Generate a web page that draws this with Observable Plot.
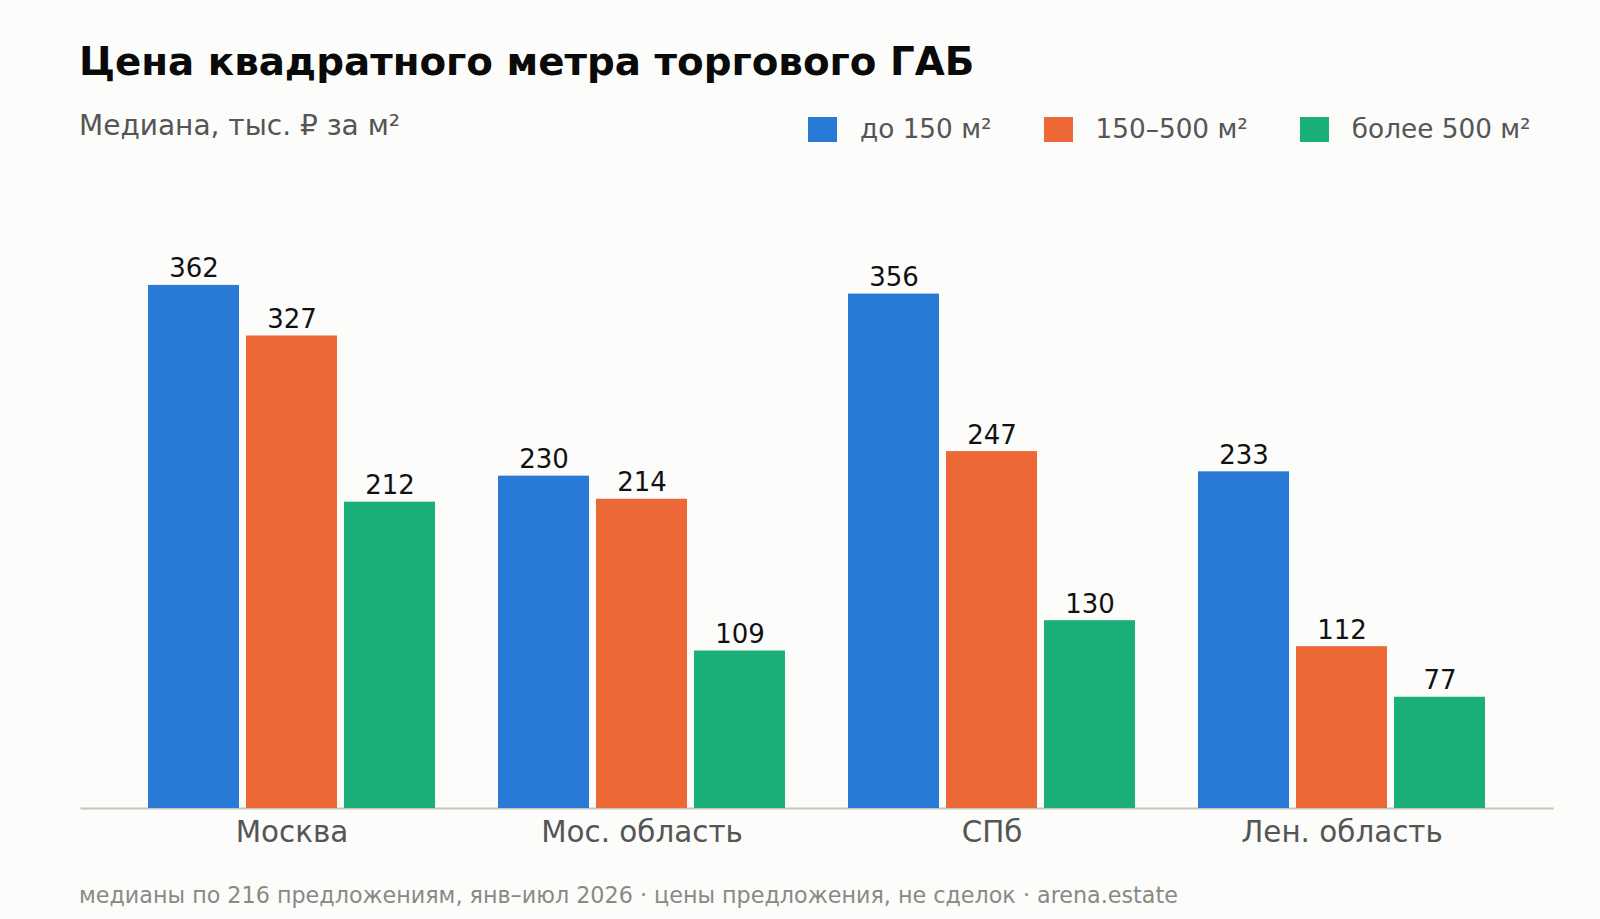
<!DOCTYPE html>
<html>
<head>
<meta charset="utf-8">
<script src="https://cdn.jsdelivr.net/npm/d3@7"></script>
<script src="https://cdn.jsdelivr.net/npm/@observablehq/plot@0.6"></script>
<style>
  html, body { margin: 0; padding: 0; background: #fcfcfa; }
  body { width: 1600px; height: 919px; position: relative; overflow: hidden; font-family: "DejaVu Sans", sans-serif; }
  #title { position: absolute; left: 79px; top: 42px; font-size: 38.8px; line-height: 39px; font-weight: bold; color: #0a0a0a; white-space: nowrap; }
  #subtitle { position: absolute; left: 79px; top: 112px; font-size: 28px; line-height: 28px; color: #555; white-space: nowrap; }
  #legend { position: absolute; left: 808px; top: 116px; display: flex; align-items: center; font-size: 26.3px; line-height: 26.5px; color: #555; white-space: nowrap; }
  #legend .item { display: flex; align-items: center; margin-right: 52px; }
  #legend .sw { width: 29px; height: 25px; margin-right: 23px; }
  #chart { position: absolute; left: 0; top: 170px; }
  #footer { position: absolute; left: 79px; top: 884px; font-size: 22.25px; line-height: 22px; color: #8a8a85; white-space: nowrap; }
</style>
</head>
<body>
<div id="title"></div>
<div id="subtitle"></div>
<div id="legend"></div>
<div id="chart"></div>
<div id="footer"></div>
<script>
const titleText = "Цена квадратного метра торгового ГАБ";
const subtitleText = "Медиана, тыс. ₽ за м²";
const footerText = "медианы по 216 предложениям, янв–июл 2026 · цены предложения, не сделок · arena.estate";

const regions = ["Москва", "Мос. область", "СПб", "Лен. область"];
const series = ["до 150 м²", "150–500 м²", "более 500 м²"];
const upTo150 = [362, 230, 356, 233];
const from150to500 = [327, 214, 247, 112];
const over500 = [212, 109, 130, 77];
const colors = ["#2979d6", "#ec6836", "#1bb07a"];

const seriesValues = [upTo150, from150to500, over500];
const data = regions.flatMap((r, i) =>
  series.map((s, j) => ({ region: r, series: s, value: seriesValues[j][i] }))
);

document.getElementById("title").textContent = titleText;
document.getElementById("subtitle").textContent = subtitleText;
document.getElementById("footer").textContent = footerText;

const legend = document.getElementById("legend");
series.forEach((s, j) => {
  const item = document.createElement("div");
  item.className = "item";
  const sw = document.createElement("div");
  sw.className = "sw";
  sw.style.background = colors[j];
  const label = document.createElement("span");
  label.textContent = s;
  item.appendChild(sw);
  item.appendChild(label);
  legend.appendChild(item);
});

const chart = Plot.plot({
  width: 1600,
  height: 700,
  marginLeft: 79,
  marginRight: 47,
  marginTop: 60,
  marginBottom: 62,
  style: { background: "transparent", color: "#555", fontFamily: "DejaVu Sans, sans-serif" },
  fx: { domain: regions, paddingInner: 0.18, paddingOuter: 0.19, label: null },
  x: { domain: series, paddingInner: 0.0745, paddingOuter: 0, axis: null },
  y: { domain: [0, 400], axis: null },
  color: { domain: series, range: colors },
  marks: [
    Plot.frame({ anchor: "bottom", facet: "super", stroke: "#c4c4b8", strokeWidth: 2, insetLeft: -67, insetRight: -67 }),
    Plot.barY(data, { fx: "region", x: "series", y: "value", fill: "series" }),
    Plot.text(data, {
      fx: "region", x: "series", y: "value",
      text: d => String(d.value),
      lineAnchor: "bottom", dy: -8,
      fontSize: 26, fill: "#111"
    }),
    Plot.axisFx({ anchor: "bottom", tickSize: 0, tickPadding: 13, fontSize: 29.4, label: null })
  ]
});
document.getElementById("chart").appendChild(chart);
</script>
</body>
</html>
